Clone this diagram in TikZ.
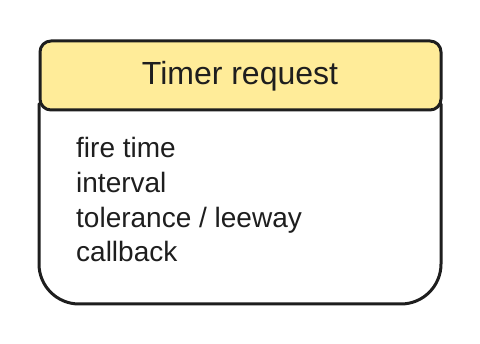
\documentclass[tikz,border=0pt]{standalone}
\usepackage{fontspec}
\setmainfont{Liberation Sans}
\definecolor{ink}{HTML}{1E1E1E}
\definecolor{hdrfill}{HTML}{FFEC99}
\begin{document}
\begin{tikzpicture}[x=1pt,y=-1pt,
  outline/.style={draw=ink, line width=3pt, line join=round, line cap=round},
  header/.style={outline, fill=hdrfill, rounded corners=11pt, inner sep=0pt, minimum width=401pt, minimum height=69pt},
  titletext/.style={inner sep=0pt, anchor=base, text=ink, font=\fontsize{32}{38}\selectfont},
  fieldtext/.style={inner sep=0pt, anchor=base west, text=ink, font=\fontsize{28}{34}\selectfont}]
\useasboundingbox (0,0) rectangle (480,344);
\fill[white] (0,0) rectangle (480,344);
% body outline
\draw[outline, rounded corners=40pt] (39,104) -- (39,304) -- (441,304) -- (441,104);
% header
\node[header] (hdr) at (240.5,75.5) {};
\node[titletext] (title) at (240,85) {Timer request};
% fields
\node[fieldtext] (f1) at (76,157.5) {fire time};
\node[fieldtext] (f2) at (76,192.3) {interval};
\node[fieldtext] (f3) at (76,227.1) {tolerance / leeway};
\node[fieldtext] (f4) at (76,261.9) {callback};
\end{tikzpicture}
\end{document}
